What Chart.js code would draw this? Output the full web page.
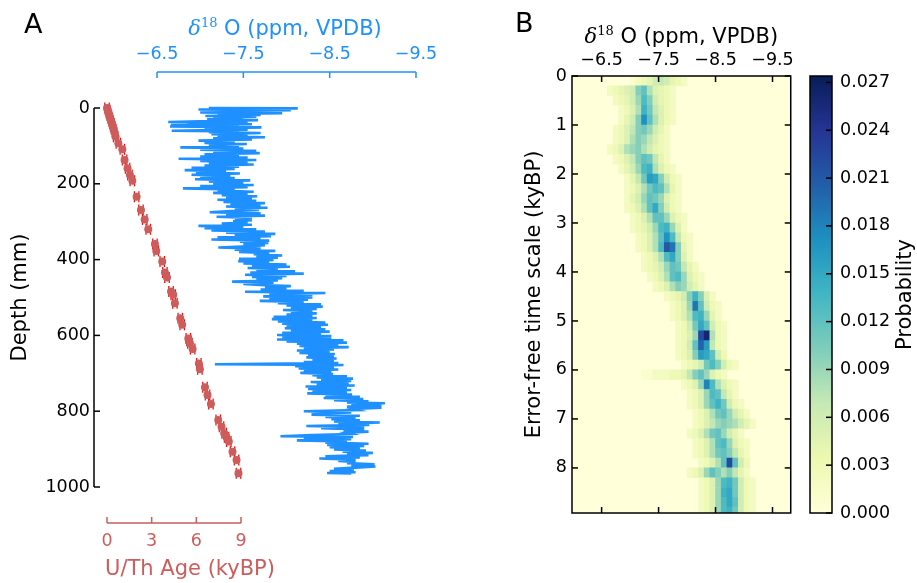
<!DOCTYPE html>
<html lang="en">
<head>
<meta charset="UTF-8">
<title>U/Th ages, δ18O profile and time-scale probability</title>
<script src="https://cdn.jsdelivr.net/npm/chart.js"></script>
<style>
  html, body { margin: 0; padding: 0; background: #fff; }
  .figure { position: relative; width: 917px; height: 583px; overflow: hidden; background: #fff; }
  .figure canvas { position: absolute; top: 0; }
  #panelA { left: 0; }
  #panelB { left: 460px; }
  #colorbar { left: 800px; }
</style>
</head>
<body>
<div class="figure">
  <canvas id="panelA" width="450" height="583"></canvas>
  <canvas id="panelB" width="340" height="583"></canvas>
  <canvas id="colorbar" width="117" height="583"></canvas>
</div>
<script>
  // ---- data ----
  const depthTicks = [0, 200, 400, 600, 800, 1000];
  const ageTicks = [0, 3, 6, 9];
  const o18Ticks = [-6.5, -7.5, -8.5, -9.5];
  const timeTicks = [0, 1, 2, 3, 4, 5, 6, 7, 8];
  const probTicks = [0, 0.003, 0.006, 0.009, 0.012, 0.015, 0.018, 0.021, 0.024, 0.027];
  const probMax = 0.0274;

  // U/Th dates: age (kyBP) and depth (mm)
  const ageKy = [0, 0.05, 0.1, 0.16, 0.22, 0.28, 0.33, 0.38, 0.45, 0.5,
    0.58, 0.76, 1.03, 1.18, 1.38, 1.54, 1.7, 1.99, 2.28, 2.53,
    2.77, 3.22, 3.31, 3.71, 3.89, 4.03, 4.3, 4.45, 4.56, 4.92,
    5.05, 5.46, 5.5, 5.57, 5.75, 6.17, 6.24, 6.58, 6.75, 6.98,
    7.47, 7.69, 7.87, 8.03, 8.18, 8.43, 8.7, 8.83];
  const ageDepth = [0, 6, 13, 20, 27, 34, 41, 48, 56, 64,
    76, 93, 109, 137, 159, 177, 192, 234, 269, 294,
    320, 359, 377, 405, 434, 447, 484, 493, 515, 555,
    572, 608, 614, 621, 636, 674, 689, 737, 757, 781,
    823, 841, 858, 869, 880, 907, 929, 964];
  const ageErr = 0.15;

  // d18O profile: [depth (mm), d18O]
  const o18Samples = [
    [0,-7.10],[1,-8.13],[2,-7.42],[4,-6.98],[6,-8.05],[8,-7.35],[10,-7.80],[12,-7.00],[14,-7.95],[16,-7.20],[18,-7.70],
    [21,-7.06],[23,-7.65],[26,-7.15],[28,-7.50],[30,-7.08],[32,-7.67],
    [35,-7.00],[37,-6.63],[39,-7.55],[41,-6.85],[43,-7.60],[45,-6.66],
    [47,-7.45],[49,-6.65],[51,-7.71],[54,-7.05],[57,-7.55],[60,-6.67],[62,-7.45],[64,-7.10],[66,-7.70],
    [69,-7.13],[71,-7.55],[74,-7.20],[77,-7.75],[80,-7.15],[83,-7.60],
    [86,-6.98],[89,-7.40],[92,-7.05],[95,-7.54],[98,-7.10],
    [101,-7.45],[104,-6.77],[107,-7.50],
    [110,-7.00],[113,-7.65],[116,-7.15],[119,-7.69],[122,-7.05],[125,-7.45],[128,-7.00],
    [131,-7.55],[134,-6.75],[137,-7.65],
    [140,-7.00],[143,-7.55],[146,-7.10],[149,-7.62],[152,-7.05],[155,-7.45],
    [158,-6.90],[161,-7.40],[164,-6.82],[167,-7.30],[170,-6.95],[173,-7.46],[176,-6.90],[179,-7.35],[182,-7.00],
    [185,-7.40],[188,-6.94],[191,-7.58],
    [194,-7.10],[197,-7.50],[200,-7.15],[203,-7.62],[206,-7.00],[209,-7.55],[212,-6.80],[215,-7.40],
    [218,-7.20],[221,-7.62],[224,-7.15],[227,-7.55],[230,-7.25],[233,-7.66],[236,-7.30],[239,-7.60],[242,-7.20],
    [245,-7.65],[248,-7.27],[251,-7.75],[254,-7.35],[257,-7.70],[260,-7.30],[263,-7.78],[266,-7.40],[269,-7.68],
    [272,-7.35],[275,-7.11],[278,-7.70],
    [281,-7.30],[284,-7.75],[287,-7.19],[290,-7.60],
    [293,-7.40],[296,-7.60],[299,-7.38],
    [302,-7.55],[305,-7.25],[308,-7.60],[311,-6.98],[314,-7.50],[317,-7.05],[320,-7.65],
    [323,-7.13],[326,-7.75],[329,-7.30],[332,-7.87],[335,-7.40],[338,-7.82],[341,-7.20],
    [344,-7.70],[347,-7.13],[350,-7.80],
    [353,-7.46],[356,-7.79],[359,-7.50],[362,-7.75],[365,-7.55],
    [368,-7.21],[371,-7.70],
    [374,-7.40],[377,-7.87],[380,-7.45],[383,-7.80],
    [386,-7.62],[389,-7.95],[392,-7.65],[395,-7.90],
    [398,-7.45],[401,-7.85],[404,-7.44],[407,-7.80],
    [410,-7.50],[413,-8.00],[416,-7.60],[419,-8.04],[422,-7.55],[425,-7.90],
    [428,-7.65],[431,-8.10],[434,-7.58],[437,-8.20],
    [440,-7.52],[443,-8.00],[446,-7.60],[449,-7.95],
    [452,-7.65],[455,-7.90],[458,-7.37],[461,-7.85],[464,-7.50],
    [467,-7.69],[470,-8.05],[473,-7.75],[476,-8.00],
    [479,-7.70],[482,-8.20],[485,-7.52],[488,-8.45],[491,-7.80],[494,-8.30],
    [497,-7.73],[500,-8.30],[503,-7.80],
    [506,-8.25],[509,-7.69],[512,-8.20],[515,-7.90],
    [518,-8.40],[521,-8.00],[524,-8.42],[527,-8.05],
    [530,-8.35],[533,-7.96],[536,-8.30],[539,-8.05],
    [542,-8.35],[545,-8.00],[548,-8.30],[551,-7.85],[554,-8.35],[557,-7.83],[560,-8.30],
    [563,-7.90],[566,-8.45],[569,-7.95],[572,-8.48],[575,-8.00],
    [578,-8.40],[581,-7.98],[584,-8.45],[587,-8.05],
    [590,-8.50],[593,-7.95],[596,-8.40],[599,-7.89],[602,-8.52],
    [605,-7.95],[608,-8.52],
    [611,-7.89],[613,-8.66],[616,-8.00],
    [619,-8.70],[622,-8.12],[625,-8.60],[628,-8.15],[631,-8.72],[634,-8.20],
    [637,-8.55],[640,-8.12],[643,-8.50],[646,-8.15],[649,-8.56],
    [652,-8.25],[655,-8.55],[658,-8.23],[661,-8.58],[664,-8.30],[667,-8.55],[670,-8.20],
    [673,-8.60],[676,-7.17],[678,-8.66],[681,-8.10],
    [684,-8.55],[687,-8.14],[690,-8.60],[693,-8.20],
    [696,-8.52],[699,-8.16],[702,-8.54],[705,-8.30],
    [708,-8.70],[711,-8.35],[714,-8.77],[717,-8.40],[720,-8.75],
    [723,-8.28],[726,-8.72],[729,-8.35],
    [732,-8.79],[735,-8.22],[738,-8.70],[741,-8.25],
    [744,-8.75],[747,-8.30],[750,-8.70],[753,-8.24],[756,-8.76],
    [759,-8.45],[762,-8.85],[765,-8.43],[768,-8.89],[771,-8.55],
    [774,-8.95],[777,-8.70],[779,-9.14],[782,-8.75],[785,-9.10],
    [788,-8.70],[791,-9.10],[794,-8.78],
    [797,-8.83],[800,-8.20],[803,-8.75],[806,-8.40],
    [809,-8.29],[812,-8.85],[815,-8.45],
    [818,-8.80],[821,-8.52],[824,-8.85],[827,-8.55],
    [830,-9.08],[833,-8.60],
    [836,-8.96],[839,-8.23],[842,-8.90],[845,-8.40],
    [848,-8.90],[851,-8.66],[854,-8.95],[857,-8.70],
    [860,-8.75],[863,-8.30],[866,-7.93],[868,-8.77],[871,-8.20],
    [874,-8.75],[877,-8.12],[880,-8.70],
    [883,-8.45],[886,-8.95],[889,-8.47],[892,-8.90],
    [895,-8.50],[898,-8.85],[901,-8.55],
    [904,-8.92],[907,-8.65],[910,-9.00],[913,-8.70],[916,-8.95],
    [919,-8.45],[922,-8.85],[925,-8.38],[928,-8.80],
    [931,-8.60],[934,-8.80],
    [937,-8.70],[940,-9.02],[943,-8.75],[946,-9.03],[949,-8.80],
    [952,-8.55],[955,-8.78],[958,-8.50],
    [961,-8.80],[963,-8.47],[964,-8.75]
  ];

  // probability map: row centre (kyBP), d18O of first cell edge, cell values (0.1 per mil wide cells)
  const heatTime = [0.1, 0.3, 0.5, 0.7, 0.9, 1.1, 1.3, 1.5, 1.7, 1.9,
    2.1, 2.3, 2.5, 2.7, 2.9, 3.1, 3.3, 3.5, 3.7, 3.9,
    4.1, 4.3, 4.5, 4.7, 4.9, 5.1, 5.3, 5.5, 5.7, 5.9,
    6.1, 6.3, 6.5, 6.7, 6.9, 7.1, 7.3, 7.5, 7.7, 7.9,
    8.1, 8.3, 8.5, 8.7, 8.9];
  const heatStart = [-7.0, -6.6, -6.7, -6.8, -6.8, -6.7, -6.7, -6.6, -6.7, -6.8,
    -6.9, -6.9, -6.9, -6.9, -7.0, -7.0, -7.1, -7.1, -7.2, -7.2,
    -7.3, -7.4, -7.6, -7.7, -7.7, -7.8, -7.8, -7.8, -7.8, -7.9,
    -7.2, -7.9, -8.0, -8.0, -8.1, -8.1, -8.0, -8.1, -8.1, -8.2,
    -8.0, -8.2, -8.2, -8.2, -8.2];
  const heatProb = [
    [0.001,0.002,0.003,0.004,0.006,0.007,0.006,0.004,0.003,0.002],
    [0.002,0.003,0.004,0.005,0.006,0.010,0.012,0.008,0.005,0.004,0.003,0.002],
    [0.002,0.003,0.004,0.006,0.009,0.013,0.010,0.006,0.004,0.003,0.002],
    [0.002,0.003,0.005,0.008,0.014,0.011,0.007,0.005,0.003,0.002],
    [0.002,0.004,0.006,0.010,0.017,0.012,0.008,0.005,0.003,0.002],
    [0.002,0.003,0.005,0.007,0.010,0.011,0.009,0.006,0.004,0.002],
    [0.002,0.003,0.005,0.008,0.010,0.009,0.007,0.005,0.003,0.002],
    [0.002,0.003,0.005,0.008,0.009,0.010,0.008,0.006,0.004,0.003,0.002],
    [0.002,0.003,0.005,0.007,0.010,0.012,0.011,0.007,0.004,0.002],
    [0.002,0.004,0.006,0.009,0.013,0.014,0.008,0.005,0.003,0.002],
    [0.002,0.004,0.007,0.011,0.016,0.015,0.010,0.006,0.003,0.002],
    [0.002,0.003,0.005,0.008,0.011,0.013,0.012,0.008,0.004,0.002],
    [0.002,0.004,0.006,0.009,0.012,0.011,0.009,0.005,0.003,0.002],
    [0.002,0.003,0.005,0.008,0.012,0.015,0.010,0.006,0.003,0.002],
    [0.002,0.003,0.005,0.008,0.012,0.012,0.009,0.005,0.003,0.002],
    [0.002,0.003,0.004,0.006,0.009,0.013,0.014,0.009,0.005,0.002],
    [0.002,0.003,0.005,0.008,0.012,0.017,0.013,0.007,0.003,0.002],
    [0.002,0.003,0.005,0.008,0.013,0.021,0.019,0.010,0.004,0.002],
    [0.002,0.003,0.005,0.008,0.013,0.015,0.010,0.005,0.002],
    [0.002,0.003,0.004,0.006,0.009,0.012,0.011,0.007,0.004,0.002],
    [0.002,0.003,0.005,0.008,0.012,0.013,0.009,0.005,0.003,0.002],
    [0.002,0.003,0.005,0.008,0.010,0.009,0.006,0.004,0.002],
    [0.002,0.003,0.004,0.006,0.010,0.014,0.010,0.005,0.002],
    [0.002,0.003,0.005,0.009,0.019,0.012,0.006,0.003,0.002],
    [0.002,0.003,0.005,0.008,0.013,0.014,0.009,0.004,0.002],
    [0.002,0.003,0.006,0.011,0.015,0.012,0.006,0.003,0.002],
    [0.002,0.003,0.005,0.009,0.022,0.026,0.008,0.003,0.002],
    [0.002,0.003,0.006,0.012,0.020,0.016,0.007,0.003,0.002],
    [0.002,0.003,0.005,0.010,0.016,0.015,0.012,0.006,0.003],
    [0.002,0.003,0.004,0.006,0.011,0.013,0.010,0.006,0.003,0.002],
    [0.001,0.001,0.002,0.002,0.002,0.003,0.003,0.004,0.007,0.010,0.012,0.009,0.005,0.003,0.002],
    [0.002,0.003,0.005,0.009,0.018,0.013,0.008,0.005,0.003,0.002],
    [0.002,0.003,0.005,0.009,0.013,0.012,0.007,0.004,0.002],
    [0.002,0.003,0.005,0.009,0.012,0.014,0.011,0.006,0.003,0.002],
    [0.002,0.003,0.005,0.008,0.011,0.012,0.009,0.006,0.004,0.002],
    [0.002,0.003,0.005,0.007,0.009,0.010,0.009,0.008,0.006,0.004,0.002],
    [0.002,0.003,0.005,0.008,0.011,0.012,0.009,0.006,0.004,0.002],
    [0.002,0.003,0.005,0.008,0.012,0.013,0.009,0.005,0.003,0.002],
    [0.002,0.003,0.005,0.008,0.011,0.012,0.010,0.007,0.004,0.002],
    [0.002,0.003,0.005,0.008,0.012,0.022,0.012,0.006,0.003],
    [0.002,0.003,0.005,0.009,0.012,0.010,0.008,0.010,0.007,0.004,0.002],
    [0.002,0.003,0.005,0.009,0.013,0.014,0.011,0.006,0.003,0.002],
    [0.002,0.003,0.005,0.009,0.014,0.015,0.011,0.006,0.003,0.002],
    [0.002,0.003,0.005,0.009,0.013,0.015,0.012,0.006,0.003,0.002],
    [0.002,0.003,0.005,0.009,0.013,0.014,0.011,0.006,0.003,0.002]
  ];

  // ---- styling helpers ----
  const red = '#cd5c5c';
  const blue = '#1e90ff';
  const tickFont = 17.5;
  const labelFont = '21px "DejaVu Sans"';
  const ylgnbu = [[255,255,217],[237,248,177],[199,233,180],[127,205,187],[65,182,196],
    [29,145,192],[34,94,168],[37,52,148],[8,29,88]];

  function cmap(f) {
    const s = Math.max(0, Math.min(1, f)) * 8;
    const i = Math.min(7, Math.floor(s)), t = s - i;
    const a = ylgnbu[i], b = ylgnbu[i + 1];
    return 'rgb(' + a.map((c, k) => Math.round(c + (b[k] - c) * t)).join(',') + ')';
  }

  const fixTicks = values => scale => { scale.ticks = values.map(v => ({ value: v })); };
  const fmtO = v => (v < 0 ? '\u2212' : '') + Math.abs(v).toFixed(1);
  const noGrid = { display: false, drawTicks: false };
  const noBorder = { display: false };

  function seg(ctx, x0, y0, x1, y1) {
    ctx.beginPath();
    ctx.moveTo(x0, y0);
    ctx.lineTo(x1, y1);
    ctx.stroke();
  }

  // δ18O axis title with italic delta and superscript 18; base = text baseline
  function deltaTitle(ctx, cx, base, color) {
    const f1 = 'italic 21px "DejaVu Serif"';
    const f2 = '13px "DejaVu Serif"';
    const f3 = labelFont;
    const rest = ' O (ppm, VPDB)';
    ctx.font = f1; const w1 = ctx.measureText('\u03b4').width;
    ctx.font = f2; const w2 = ctx.measureText('18').width;
    ctx.font = f3; const w3 = ctx.measureText(rest).width;
    let x = cx - (w1 + w2 + w3) / 2;
    ctx.fillStyle = color;
    ctx.textAlign = 'left';
    ctx.textBaseline = 'alphabetic';
    ctx.font = f1; ctx.fillText('\u03b4', x, base); x += w1;
    ctx.font = f2; ctx.fillText('18', x, base - 8); x += w2;
    ctx.font = f3; ctx.fillText(rest, x, base);
  }

  Chart.defaults.font.family = '"DejaVu Sans", sans-serif';
  Chart.defaults.font.size = tickFont;
  Chart.defaults.color = '#000';
  Chart.defaults.animation = false;
  Chart.defaults.plugins.legend.display = false;
  Chart.defaults.plugins.tooltip.enabled = false;

  // ---- panel A ----
  const panelAFrame = {
    id: 'panelAFrame',
    beforeDatasetsDraw(chart) {
      // horizontal age error bars with tall caps
      const { ctx, scales: { xAge, y } } = chart;
      ctx.save();
      ctx.strokeStyle = 'red';
      ctx.lineWidth = 1.2;
      ageKy.forEach((a, i) => {
        const py = y.getPixelForValue(ageDepth[i]);
        const x0 = xAge.getPixelForValue(a - ageErr);
        const x1 = xAge.getPixelForValue(a + ageErr);
        seg(ctx, x0, py, x1, py);
        seg(ctx, x0, py - 5.5, x0, py + 5.5);
        seg(ctx, x1, py - 5.5, x1, py + 5.5);
      });
      ctx.restore();
    },
    afterDraw(chart) {
      const { ctx, chartArea: a, scales: { xAge, xO, y } } = chart;
      ctx.save();
      ctx.lineWidth = 1.5;
      // depth spine
      ctx.strokeStyle = '#000';
      seg(ctx, a.left, y.getPixelForValue(0), a.left, y.getPixelForValue(1000));
      depthTicks.forEach(v => {
        const py = y.getPixelForValue(v);
        seg(ctx, a.left, py, a.left + 6, py);
      });
      // age spine
      ctx.strokeStyle = red;
      seg(ctx, xAge.getPixelForValue(0), a.bottom, xAge.getPixelForValue(9), a.bottom);
      ageTicks.forEach(v => {
        const px = xAge.getPixelForValue(v);
        seg(ctx, px, a.bottom, px, a.bottom - 6);
      });
      // d18O spine
      ctx.strokeStyle = blue;
      seg(ctx, xO.getPixelForValue(-6.5), a.top, xO.getPixelForValue(-9.5), a.top);
      o18Ticks.forEach(v => {
        const px = xO.getPixelForValue(v);
        seg(ctx, px, a.top, px, a.top + 6);
      });
      // titles
      deltaTitle(ctx, 285, 35, blue);
      ctx.font = labelFont;
      ctx.fillStyle = red;
      ctx.textAlign = 'center';
      ctx.textBaseline = 'middle';
      ctx.fillText('U/Th Age (kyBP)', 190, 569.5);
      ctx.font = '27px "DejaVu Sans"';
      ctx.fillStyle = '#000';
      ctx.textAlign = 'left';
      ctx.textBaseline = 'alphabetic';
      ctx.fillText('A', 24, 33);
      ctx.restore();
    }
  };

  new Chart(document.getElementById('panelA'), {
    type: 'scatter',
    data: {
      datasets: [
        {
          label: 'U/Th age',
          data: ageKy.map((a, i) => ({ x: a, y: ageDepth[i] })),
          xAxisID: 'xAge',
          yAxisID: 'y',
          pointRadius: 4,
          pointBackgroundColor: red,
          pointBorderColor: red,
          pointBorderWidth: 0
        },
        {
          label: 'd18O',
          data: o18Samples.map(([d, v]) => ({ x: v, y: d })),
          xAxisID: 'xO',
          yAxisID: 'y',
          showLine: true,
          pointRadius: 0,
          borderColor: blue,
          borderWidth: 2.6
        }
      ]
    },
    options: {
      responsive: false,
      layout: { padding: { right: 10 } },
      scales: {
        y: {
          type: 'linear', position: 'left', reverse: true, min: -95, max: 1095,
          grid: noGrid, border: noBorder,
          afterBuildTicks: fixTicks(depthTicks),
          afterFit: s => { s.width = 94; },
          ticks: { padding: 4, callback: v => String(v) },
          title: { display: true, text: 'Depth (mm)', font: { size: 21 }, padding: { top: 8.4 } }
        },
        xAge: {
          type: 'linear', position: 'bottom', min: -0.873, max: 22.365,
          grid: noGrid, border: noBorder,
          afterBuildTicks: fixTicks(ageTicks),
          afterFit: s => { s.height = 60; },
          ticks: { color: red, padding: 7.5, maxRotation: 0, callback: v => String(v) }
        },
        xO: {
          type: 'linear', position: 'top', reverse: true, min: -9.778, max: -5.770,
          grid: noGrid, border: noBorder,
          afterBuildTicks: fixTicks(o18Ticks),
          afterFit: s => { s.height = 72; },
          ticks: { color: blue, padding: 7.5, maxRotation: 0, callback: fmtO }
        }
      }
    },
    plugins: [panelAFrame]
  });

  // ---- panel B ----
  const cells = [];
  heatTime.forEach((t, i) => {
    heatProb[i].forEach((p, j) => {
      const x0 = heatStart[i] - 0.1 * j;
      cells.push({ x: [x0, x0 - 0.1], y: t, p: p });
    });
  });

  const panelBFrame = {
    id: 'panelBFrame',
    beforeDatasetsDraw(chart) {
      const { ctx, chartArea: a } = chart;
      ctx.save();
      ctx.fillStyle = cmap(0);
      ctx.fillRect(a.left, a.top, a.right - a.left, a.bottom - a.top);
      ctx.restore();
    },
    afterDraw(chart) {
      const { ctx, chartArea: a, scales: { x, y } } = chart;
      ctx.save();
      ctx.strokeStyle = '#000';
      ctx.lineWidth = 1.5;
      ctx.strokeRect(a.left, a.top, a.right - a.left, a.bottom - a.top);
      o18Ticks.forEach(v => {
        const px = x.getPixelForValue(v);
        seg(ctx, px, a.top, px, a.top + 6);
        seg(ctx, px, a.bottom, px, a.bottom - 6);
      });
      timeTicks.forEach(v => {
        const py = y.getPixelForValue(v);
        seg(ctx, a.left, py, a.left + 6, py);
        seg(ctx, a.right, py, a.right - 6, py);
      });
      deltaTitle(ctx, (a.left + a.right) / 2, 42.5, '#000');
      ctx.font = '27px "DejaVu Sans"';
      ctx.fillStyle = '#000';
      ctx.textAlign = 'left';
      ctx.textBaseline = 'alphabetic';
      ctx.fillText('B', 55, 32);
      ctx.restore();
    }
  };

  new Chart(document.getElementById('panelB'), {
    type: 'bar',
    data: {
      datasets: [{
        label: 'Probability',
        data: cells,
        backgroundColor: c => (c.raw ? cmap(c.raw.p / probMax) : cmap(0)),
        borderWidth: 0,
        barPercentage: 1,
        categoryPercentage: 1
      }]
    },
    options: {
      indexAxis: 'y',
      responsive: false,
      layout: { padding: { right: 9, bottom: 70 } },
      scales: {
        x: {
          type: 'linear', position: 'top', reverse: true, min: -9.82, max: -5.98,
          grid: noGrid, border: noBorder,
          afterBuildTicks: fixTicks(o18Ticks),
          afterFit: s => { s.height = 76; },
          ticks: { padding: 5.5, maxRotation: 0, callback: fmtO }
        },
        y: {
          type: 'linear', position: 'left', reverse: true, min: 0, max: 8.92, offset: false,
          grid: noGrid, border: noBorder,
          afterBuildTicks: fixTicks(timeTicks),
          afterFit: s => { s.width = 112; },
          ticks: { padding: 5, callback: v => String(v) },
          title: { display: true, text: 'Error-free time scale (kyBP)', font: { size: 21 }, padding: { top: 62.4 } }
        }
      }
    },
    plugins: [panelBFrame]
  });

  // ---- colour bar ----
  const colorbarFrame = {
    id: 'colorbarFrame',
    beforeDraw(chart) {
      const { ctx, chartArea: a } = chart;
      const g = ctx.createLinearGradient(0, a.bottom, 0, a.top);
      ylgnbu.forEach((c, i) => g.addColorStop(i / 8, 'rgb(' + c.join(',') + ')'));
      ctx.save();
      ctx.fillStyle = g;
      ctx.fillRect(a.left, a.top, a.right - a.left, a.bottom - a.top);
      ctx.restore();
    },
    afterDraw(chart) {
      const { ctx, chartArea: a, scales: { y } } = chart;
      ctx.save();
      ctx.strokeStyle = '#000';
      ctx.lineWidth = 1.5;
      ctx.strokeRect(a.left, a.top, a.right - a.left, a.bottom - a.top);
      probTicks.forEach(v => {
        const py = y.getPixelForValue(v);
        seg(ctx, a.right, py, a.right - 6, py);
      });
      ctx.translate(106, (a.top + a.bottom) / 2);
      ctx.rotate(-Math.PI / 2);
      ctx.font = labelFont;
      ctx.fillStyle = '#000';
      ctx.textAlign = 'center';
      ctx.textBaseline = 'middle';
      ctx.fillText('Probability', 0, 0);
      ctx.restore();
    }
  };

  new Chart(document.getElementById('colorbar'), {
    type: 'scatter',
    data: { datasets: [] },
    options: {
      responsive: false,
      layout: { padding: { left: 10, top: 76, bottom: 70 } },
      scales: {
        x: { display: false },
        y: {
          type: 'linear', position: 'right', min: 0, max: probMax,
          grid: noGrid, border: noBorder,
          afterBuildTicks: fixTicks(probTicks),
          afterFit: s => { s.width = 85; },
          ticks: { padding: 8, callback: v => v.toFixed(3) }
        }
      }
    },
    plugins: [colorbarFrame]
  });
</script>
</body>
</html>
